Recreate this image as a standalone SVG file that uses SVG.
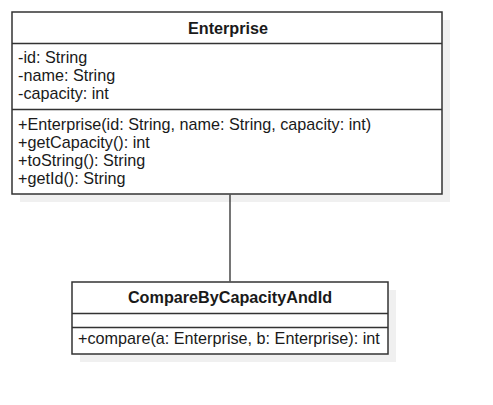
<svg xmlns="http://www.w3.org/2000/svg" width="493" height="405" viewBox="0 0 493 405">
<style>
.box{fill:#ffffff;stroke:#333333;stroke-width:1.5}
.shadow{fill:#f0f0f0;stroke:none}
.div{stroke:#333333;stroke-width:1.5}
.t{font-family:"Liberation Sans",Arial,sans-serif;font-size:16.2px;fill:#1a1a1a}
.b{font-family:"Liberation Sans",Arial,sans-serif;font-size:16.2px;font-weight:bold;fill:#1a1a1a;text-anchor:middle}
.conn{stroke:#1a1a1a;stroke-width:1.2;fill:none}
</style>
<rect width="493" height="405" fill="#ffffff"/>
<g id="Enterprise">
<rect class="shadow" x="20" y="20" width="430" height="182"/>
<rect class="box" x="12" y="12" width="430" height="182"/>
<line class="div" x1="12" y1="43.5" x2="442" y2="43.5"/>
<line class="div" x1="12" y1="109.5" x2="442" y2="109.5"/>
<text class="b" x="228" y="34">Enterprise</text>
<text class="t" x="18" y="63">-id: String</text>
<text class="t" x="18" y="81">-name: String</text>
<text class="t" x="18" y="99">-capacity: int</text>
<text class="t" x="18" y="130">+Enterprise(id: String, name: String, capacity: int)</text>
<text class="t" x="18" y="148">+getCapacity(): int</text>
<text class="t" x="18" y="166">+toString(): String</text>
<text class="t" x="18" y="184">+getId(): String</text>
</g>
<g id="CompareByCapacityAndId">
<rect class="shadow" x="80" y="290" width="316" height="72"/>
<rect class="box" x="72" y="282" width="316" height="72"/>
<line class="div" x1="72" y1="313.5" x2="388" y2="313.5"/>
<line class="div" x1="72" y1="327.5" x2="388" y2="327.5"/>
<text class="b" x="230" y="303">CompareByCapacityAndId</text>
<text class="t" x="78" y="344">+compare(a: Enterprise, b: Enterprise): int</text>
</g>
<g id="connectors">
<line class="conn" x1="230" y1="194.8" x2="230" y2="281.2"/>
</g>
</svg>
